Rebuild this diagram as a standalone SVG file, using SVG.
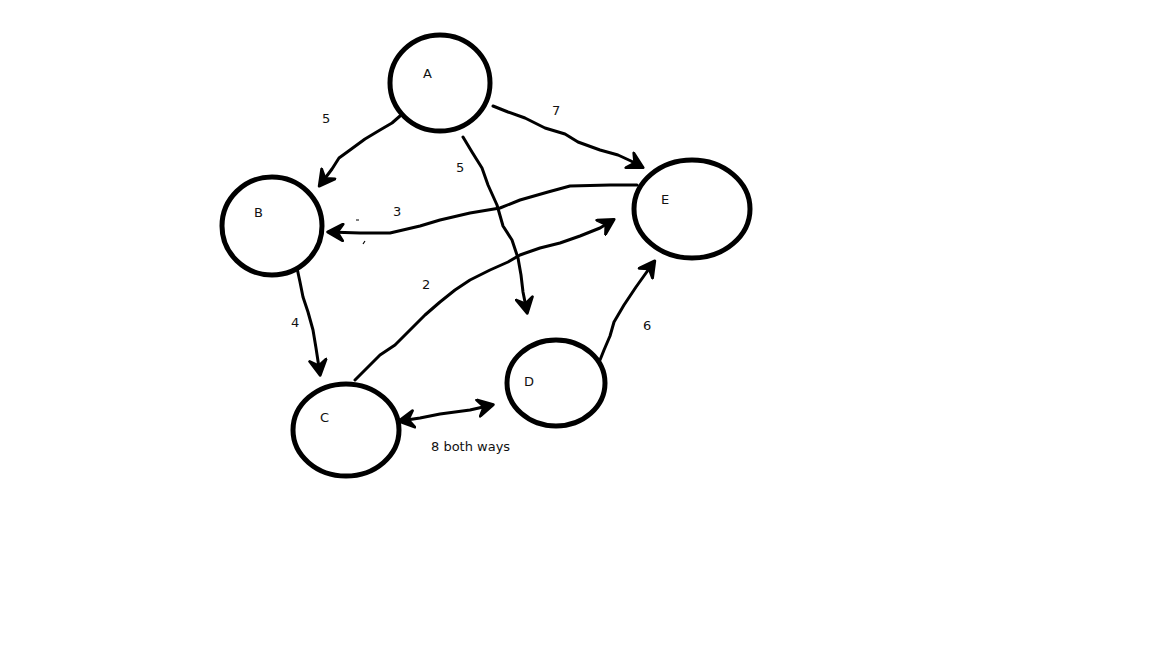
<svg xmlns="http://www.w3.org/2000/svg" width="1152" height="648" viewBox="0 0 1152 648">
<style>
.node{fill:none;stroke:#000;stroke-width:5}
.edge{fill:none;stroke:#000;stroke-width:3;stroke-linecap:round;stroke-linejoin:round;marker-end:url(#arr)}
.lbl{font-family:"DejaVu Sans",Verdana,sans-serif;font-size:13px;fill:#111}
.mark{fill:none;stroke:#000;stroke-width:1.2}
</style>
<defs>
<marker id="arr" viewBox="0 0 14 14" refX="11" refY="7" markerWidth="6.5" markerHeight="6.5" orient="auto" markerUnits="strokeWidth">
<path d="M1,1 L12,7 L1,13 L5,7 Z" fill="#000" stroke="#000" stroke-width="2" stroke-linejoin="round"/>
</marker>
<marker id="arrs" viewBox="0 0 14 14" refX="11" refY="7" markerWidth="6.5" markerHeight="6.5" orient="auto-start-reverse" markerUnits="strokeWidth">
<path d="M1,1 L12,7 L1,13 L5,7 Z" fill="#000" stroke="#000" stroke-width="2" stroke-linejoin="round"/>
</marker>
</defs>
<rect width="1152" height="648" fill="#fff"/>
<g id="edges">
<path class="edge" d="M400,116 L392,123 L380,130 L365,139 L350,150 L339,158 L332,169 L320,185"/>
<path class="edge" d="M463,137 L472,152 L482,168 L488,185 L497,205 L503,226 L512,240 L518,258 L521,275 L523,292 L527,312"/>
<path class="edge" d="M493,106 L508,112 L525,118 L545,128 L565,134 L578,142 L600,150 L618,155 L631,161 L642,167"/>
<path class="edge" d="M637,185 L610,185 L570,186 L548,192 L520,200 L500,208 L470,213 L440,220 L420,226 L390,233 L360,233 L329,232"/>
<path class="edge" d="M355,380 L367,368 L380,355 L395,345 L410,330 L425,315 L440,302 L455,290 L470,280 L490,270 L508,262 L520,255 L540,248 L560,243 L580,236 L600,228 L613,220"/>
<path class="edge" d="M297,268 L300,282 L303,297 L308,312 L313,330 L316,348 L320,374"/>
<path class="edge" d="M492,405 L470,410 L440,414 L420,418 L400,421" marker-start="url(#arrs)"/>
<path class="edge" d="M600,360 L604,350 L610,336 L614,322 L624,305 L636,287 L646,273 L654,262"/>
<path class="mark" d="M356,220 L359,220 M365,241 L363,244"/>
</g>
<g id="node-A"><ellipse class="node" cx="440" cy="83" rx="50" ry="48"/><text class="lbl" x="423" y="78">A</text></g>
<g id="node-B"><ellipse class="node" cx="272" cy="226" rx="50" ry="49"/><text class="lbl" x="254" y="217">B</text></g>
<g id="node-C"><ellipse class="node" cx="346" cy="430" rx="53" ry="46"/><text class="lbl" x="320" y="422">C</text></g>
<g id="node-D"><ellipse class="node" cx="556" cy="383" rx="49" ry="43"/><text class="lbl" x="524" y="386">D</text></g>
<g id="node-E"><ellipse class="node" cx="692" cy="209" rx="58" ry="49"/><text class="lbl" x="661" y="204">E</text></g>
<g id="labels">
<text class="lbl" x="322" y="123">5</text>
<text class="lbl" x="456" y="172">5</text>
<text class="lbl" x="552" y="115">7</text>
<text class="lbl" x="393" y="216">3</text>
<text class="lbl" x="422" y="289">2</text>
<text class="lbl" x="291" y="327">4</text>
<text class="lbl" x="643" y="330">6</text>
<text class="lbl" x="431" y="451">8 both ways</text>
</g>
</svg>
